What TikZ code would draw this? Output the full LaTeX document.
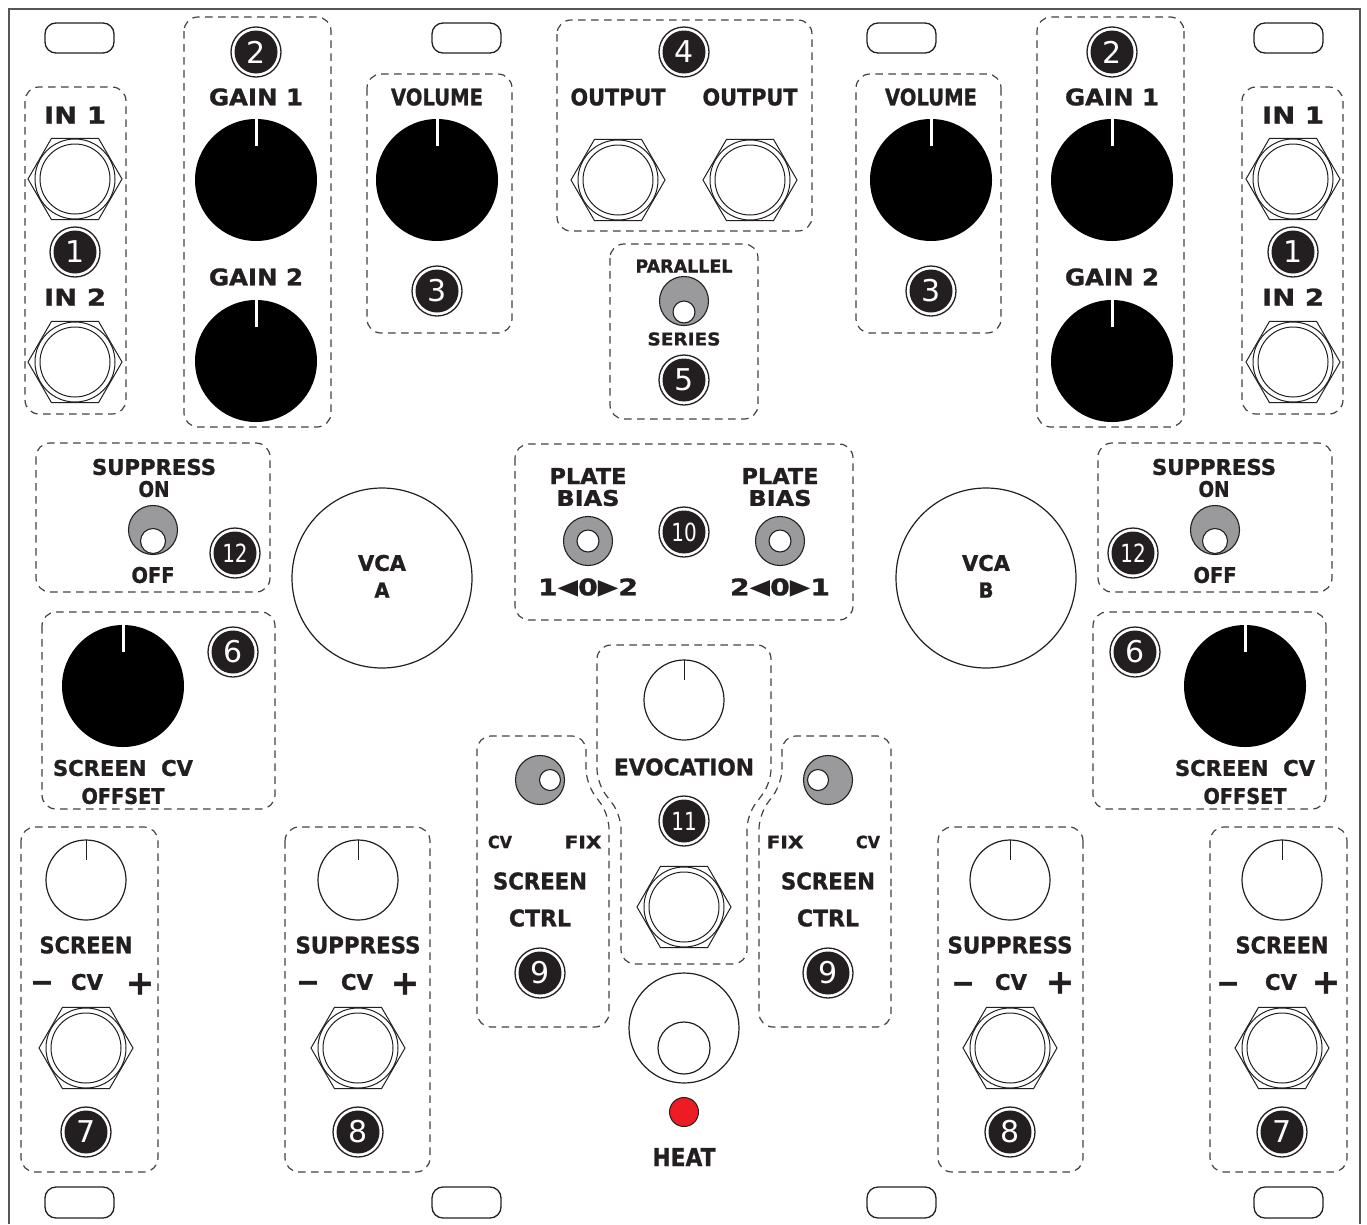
\documentclass[tikz,border=0pt]{standalone}
\usepackage{fontspec}
\setmainfont{DejaVu Sans}
\newfontfamily\trifont{DejaVu Sans}
\newfontfamily\heavy{DejaVu Sans}[BoldFeatures={FakeBold=1.2}]
\usepackage{graphicx}
\definecolor{ink}{HTML}{231F20}
\definecolor{tgray}{HTML}{9A9A9C}
\definecolor{framec}{HTML}{555555}
\definecolor{led}{HTML}{ED1C24}
\tikzset{
  dbox/.style={draw=ink!85, line width=1.2pt, dash pattern=on 7.5pt off 5.5pt, rounded corners=14pt},
  slot/.style={draw=ink, line width=1.3pt, rounded corners=11pt},
  linel/.style={draw=ink, line width=1pt},
  lbl/.style={inner sep=0pt, text=ink},
  bdg/.style={inner sep=0pt, text=white, font=\fontsize{30pt}{34pt}\selectfont},
  pm/.style={inner sep=0pt, text=ink, anchor=base},
}
\newcommand{\Lbl}[6]{\node[lbl] (#1) at (#2,#3) {\resizebox{#4pt}{#5pt}{\heavy\bfseries #6}};}
\newcommand{\Badge}[4]{\draw[draw=ink, line width=1.3pt, fill=white] (#2,#3) circle[radius=25];
  \fill[ink] (#2,#3) circle[radius=21.5];
  \node[bdg] (#1) at (#2,#3) {#4};}
\newcommand{\BadgeTwo}[4]{\draw[draw=ink, line width=1.3pt, fill=white] (#2,#3) circle[radius=25];
  \fill[ink] (#2,#3) circle[radius=21.5];
  \node[bdg] (#1) at (#2,#3) {\scalebox{0.8}[1]{\fontsize{25pt}{30pt}\selectfont #4}};}
\newcommand{\Jack}[2]{\draw[linel] (#1,#2) ++(0:47) -- ++(120:47) -- ++(180:47) -- ++(240:47) -- ++(300:47) -- ++(0:47) -- cycle;
  \draw[linel] (#1,#2) circle[radius=40];
  \draw[linel] (#1,#2) circle[radius=35];}
\newcommand{\BigKnob}[2]{\fill[black] (#1,#2) circle[radius=61];
  \draw[white, line width=3pt] (#1,{#2-61}) -- (#1,{#2-34});}
\newcommand{\SmallKnob}[2]{\draw[draw=ink, line width=1.2pt] (#1,#2) circle[radius=40];
  \draw[linel] (#1,{#2-40}) -- (#1,{#2-20});}
\newcommand{\Toggle}[5]{\draw[draw=ink, line width=1.1pt, fill=tgray] (#1,#2) circle[radius=24.5];
  \draw[draw=ink, line width=1.1pt, fill=white] ({#1+#3},{#2+#4}) circle[radius=#5];}
\newcommand{\Plus}[3]{\node[pm, font=\heavy\bfseries\fontsize{34pt}{34pt}\selectfont] (#1) at (#2,{#3+11.5}) {+};}
\newcommand{\Minus}[3]{\node[pm, font=\heavy\bfseries\fontsize{28pt}{28pt}\selectfont] (#1) at (#2,{#3+9.5}) {−};}
\newcommand{\Tri}[1]{\raisebox{0.02em}{\smash{\scalebox{0.95}{\trifont #1}}}}
\let\SgnLeft\Minus
\let\SgnRight\Plus
\newcommand{\Half}[3]{%
  \draw[slot] (45,23) rectangle (114,53);
  \draw[slot] (432,23) rectangle (501,53);
  \draw[slot] (45,1187) rectangle (114,1218);
  \draw[slot] (432,1187) rectangle (501,1218);
  % inputs
  \draw[dbox] (25,87) rectangle (126,414);
  \Lbl{inA#1}{75}{115}{62}{17}{IN~1}
  \Jack{75}{179}
  \Badge{bA#1}{75}{252}{1}
  \Lbl{inB#1}{75}{297}{62}{17}{IN~2}
  \Jack{75}{362}
  % gains
  \draw[dbox] (184,17) rectangle (331,427);
  \Badge{bB#1}{256}{52}{2}
  \Lbl{gainA#1}{256}{97}{94}{17}{GAIN~1}
  \BigKnob{256}{180}
  \Lbl{gainB#1}{256}{277}{94}{17}{GAIN~2}
  \BigKnob{256}{361}
  % volume
  \draw[dbox] (367,74) rectangle (512,333);
  \Lbl{vol#1}{437}{97}{92}{17}{VOLUME}
  \BigKnob{437}{180}
  \Badge{bC#1}{437}{291}{3}
  % suppress on/off
  \draw[dbox] (36,443) rectangle (270,592);
  \Lbl{sup#1}{154}{467}{124}{16}{SUPPRESS}
  \Lbl{on#1}{154}{489}{31}{16}{ON}
  \Toggle{153}{530}{0}{11}{12.5}
  \Lbl{off#1}{153}{575}{43}{16}{OFF}
  \BadgeTwo{bL#1}{235}{553}{12}
  % VCA
  \draw[draw=ink, line width=1.2pt] (382,578) circle[radius=90];
  \Lbl{vca#1}{382}{563}{48}{16}{VCA}
  \Lbl{vcal#1}{382}{590}{15}{15}{#3}
  % screen cv offset
  \draw[dbox] (42,612) rectangle (275,809);
  \BigKnob{123}{686}
  \Badge{bF#1}{233}{652}{6}
  \Lbl{scv#1}{123}{768}{140}{16}{SCREEN~~CV}
  \Lbl{offs#1}{123}{796}{83}{16}{OFFSET}
  % screen cv
  \draw[dbox] (21,827) rectangle (158,1172);
  \SmallKnob{86}{880}
  \Lbl{scr#1}{86}{945}{93}{17}{SCREEN}
  \SgnLeft{mG#1}{42}{982}
  \Lbl{cvG#1}{87}{982}{32}{16}{CV}
  \SgnRight{pG#1}{140}{983}
  \Jack{86}{1048}
  \Badge{bG#1}{86}{1132}{7}
  % suppress cv
  \draw[dbox] (285,827) rectangle (430,1172);
  \SmallKnob{358}{880}
  \Lbl{supH#1}{358}{945}{125}{17}{SUPPRESS}
  \SgnLeft{mH#1}{308}{982}
  \Lbl{cvH#1}{357}{982}{32}{16}{CV}
  \SgnRight{pH#1}{405}{983}
  \Jack{358}{1048}
  \Badge{bH#1}{358}{1132}{8}
  % screen ctrl
  \draw[dbox] (477,900) -- (477,736) -- (586,736) -- (586,783) -- (609,815) -- (609,1027) -- (477,1027) -- cycle;
  \Toggle{540}{780}{10}{0}{10.5}
  \Lbl{cvI#1}{500}{842}{24}{12.5}{CV}
  \Lbl{fix#1}{583}{842}{37}{12.5}{FIX}
  \Lbl{scrI#1}{540}{881}{94}{17}{SCREEN}
  \Lbl{ctrl#1}{540}{918}{62}{17}{CTRL}
  \Badge{bI#1}{540}{973}{9}
  % plate bias
  \Lbl{plate#1}{588}{476}{77}{16}{PLATE}
  \Lbl{bias#1}{588}{498}{63}{16}{BIAS}
  \Toggle{588}{541}{0}{0}{11}
  \node[lbl] (pb#1) at (588,587) {\resizebox{100pt}{17pt}{\heavy\bfseries #2}};
}
\begin{document}
\begin{tikzpicture}[x=1pt, y=-1pt]
\useasboundingbox (0,0) rectangle (1367,1224);
\fill[white] (0,0) rectangle (1367,1224);
\draw[framec, line width=2pt] (8.5,1224) -- (8.5,9) -- (1359.5,9) -- (1359.5,1224);
\Half{L}{1\Tri{◀}0\Tri{▶}2}{A}
\begin{scope}[xshift=1368pt, xscale=-1]
\let\SgnLeft\Plus
\let\SgnRight\Minus
\Half{R}{2\Tri{◀}0\Tri{▶}1}{B}
\end{scope}
% outputs
\draw[dbox] (557,20) rectangle (812,231);
\Badge{bD}{684}{52}{4}
\Lbl{outA}{618}{97}{95}{17}{OUTPUT}
\Lbl{outB}{750}{97}{95}{17}{OUTPUT}
\Jack{618}{180}
\Jack{750}{180}
% parallel / series
\draw[dbox] (610,244) rectangle (758,419);
\Lbl{par}{684}{266}{97}{13}{PARALLEL}
\Toggle{684}{301}{0}{11}{11}
\Lbl{ser}{684}{339}{73}{13}{SERIES}
\Badge{bE}{684}{380}{5}
% plate bias box
\draw[dbox] (515,444) rectangle (853,620);
\BadgeTwo{bJ}{684}{532}{10}
% evocation
\draw[dbox] (621,900) -- (621,815) -- (597,783) -- (597,645) -- (771,645) -- (771,783) -- (747,815) -- (747,964) -- (621,964) -- cycle;
\SmallKnob{684}{700}
\Lbl{evo}{684}{767}{140}{17}{EVOCATION}
\BadgeTwo{bK}{684}{821}{11}
\Jack{684}{907}
% heat
\draw[draw=ink, line width=1.2pt] (684,1028) circle[radius=55];
\draw[draw=ink, line width=1.2pt] (684,1048) circle[radius=26];
\draw[draw=ink, line width=1pt, fill=led] (684,1112) circle[radius=14.5];
\Lbl{heat}{684}{1157}{63}{18}{HEAT}
\end{tikzpicture}
\end{document}
